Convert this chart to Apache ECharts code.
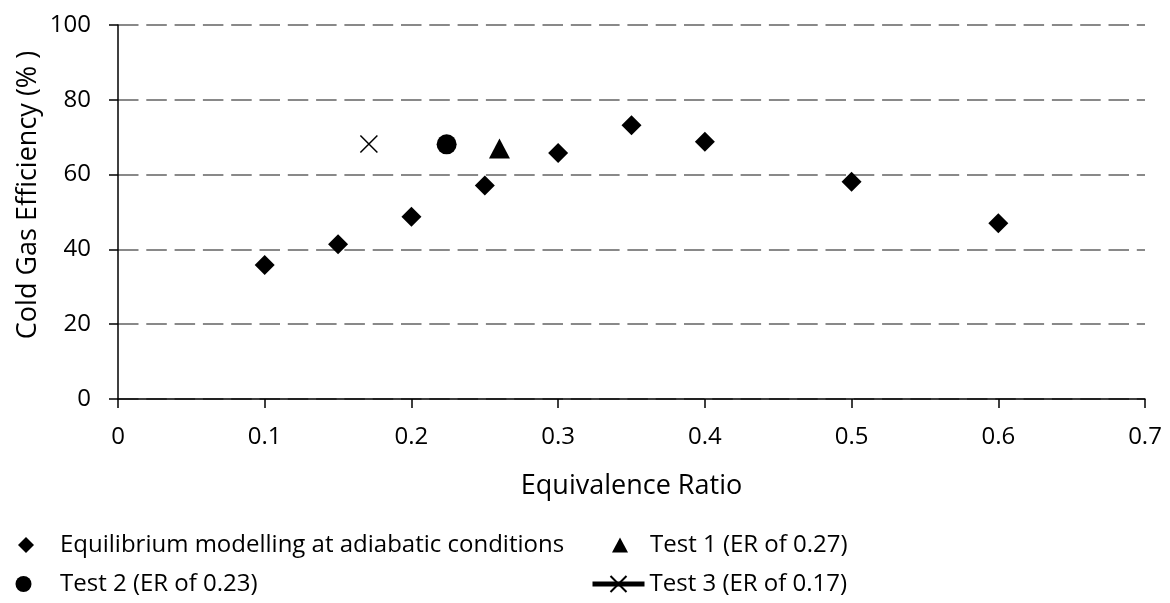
<!DOCTYPE html>
<html>
<head>
<meta charset="utf-8">
<script src="https://cdn.jsdelivr.net/npm/echarts@6/dist/echarts.min.js"></script>
<style>
html,body{margin:0;padding:0;background:#fff;}
#chart{width:1170px;height:603px;}
</style>
</head>
<body>
<div id="chart"></div>
<script>
// ---- Data ----
var seriesNames = [
  'Equilibrium modelling at adiabatic conditions',
  'Test 1 (ER of 0.27)',
  'Test 2 (ER of 0.23)',
  'Test 3 (ER of 0.17)'
];
var equilibriumER  = [0.1, 0.15, 0.2, 0.25, 0.3, 0.35, 0.4, 0.5, 0.6];
var equilibriumCGE = [35.8, 41.4, 48.7, 57.1, 65.8, 73.2, 68.8, 58.1, 47.0];
var test1 = [[0.26, 67.0]];
var test2 = [[0.224, 68.1]];
var test3 = [[0.171, 68.2]];
var xTicks = { min: 0, max: 0.7, interval: 0.1 };
var yTicks = { min: 0, max: 100, interval: 20 };
var xTitle = 'Equivalence Ratio';
var yTitle = 'Cold Gas Efficiency (% )';

var FONT = 'Open Sans';
var FS = 24;
var TFS = 27;

var eqData = equilibriumER.map(function (x, i) { return [x, equilibriumCGE[i]]; });

var chart = echarts.init(document.getElementById('chart'), null, { renderer: 'canvas' });

function legendItem(name, left, top, w, h, padLeft) {
  return {
    data: [name],
    left: left,
    top: top,
    orient: 'horizontal',
    padding: 0,
    itemWidth: w,
    itemHeight: h,
    selectedMode: false,
    symbolKeepAspect: true,
    lineStyle: { width: 5, color: '#000' },
    itemStyle: { opacity: 1 },
    textStyle: {
      fontFamily: FONT, fontSize: FS, color: '#000',
      lineHeight: 30,
      padding: [0, 0, 0, padLeft]
    }
  };
}

var option = {
  backgroundColor: '#fff',
  animation: false,
  textStyle: { fontFamily: FONT, color: '#000' },
  grid: { left: 118, right: 25, top: 25, bottom: 204, containLabel: false },
  xAxis: {
    type: 'value',
    min: xTicks.min, max: xTicks.max, interval: xTicks.interval,
    name: xTitle,
    nameLocation: 'middle',
    nameGap: 74,
    nameTextStyle: { fontFamily: FONT, fontSize: TFS, color: '#000' },
    axisLine: { show: true, onZero: false, lineStyle: { color: '#000', width: 1.5 } },
    axisTick: { show: true, inside: false, length: 9, lineStyle: { color: '#000', width: 1.5 } },
    axisLabel: {
      fontFamily: FONT, fontSize: FS, color: '#000', margin: 26,
      formatter: function (v) { return String(Math.round(v * 10) / 10); }
    },
    splitLine: { show: false }
  },
  yAxis: {
    type: 'value',
    min: yTicks.min, max: yTicks.max, interval: yTicks.interval,
    axisLine: { show: true, onZero: false, lineStyle: { color: '#000', width: 1.5 } },
    axisTick: { show: true, inside: false, length: 9, lineStyle: { color: '#000', width: 1.5 } },
    axisLabel: { fontFamily: FONT, fontSize: FS, color: '#000', margin: 27 },
    splitLine: {
      show: true,
      lineStyle: { color: '#898989', width: 2, type: [20.5, 7.8] }
    }
  },
  graphic: [{
    type: 'text',
    x: 28, y: 195,
    rotation: Math.PI / 2,
    style: {
      text: yTitle,
      fontFamily: FONT, fontSize: TFS, fill: '#000',
      align: 'center', verticalAlign: 'middle'
    }
  }],
  legend: [
    legendItem(seriesNames[0], 18, 530, 16, 16, 21),
    legendItem(seriesNames[1], 612, 530, 16, 15, 17),
    legendItem(seriesNames[2], 15.5, 569, 16, 16, 23.5),
    legendItem(seriesNames[3], 590, 569, 52, 20, 0)
  ],
  series: [
    {
      name: seriesNames[0], type: 'scatter', symbol: 'diamond', symbolSize: 20,
      itemStyle: { color: '#000', opacity: 1 }, data: eqData
    },
    {
      name: seriesNames[1], type: 'scatter', symbol: 'triangle', symbolSize: [21, 20],
      itemStyle: { color: '#000', opacity: 1 }, data: test1
    },
    {
      name: seriesNames[2], type: 'scatter', symbol: 'circle', symbolSize: 20,
      itemStyle: { color: '#000', opacity: 1 }, data: test2
    },
    {
      name: seriesNames[3], type: 'line',
      symbol: 'path://M0,0L10,10M10,0L0,10', symbolSize: 17,
      showSymbol: true,
      lineStyle: { color: '#000', width: 5 },
      itemStyle: { color: '#000', borderColor: '#000', borderWidth: 1.5, opacity: 1 },
      data: test3
    }
  ]
};
chart.setOption(option);
</script>
</body>
</html>
